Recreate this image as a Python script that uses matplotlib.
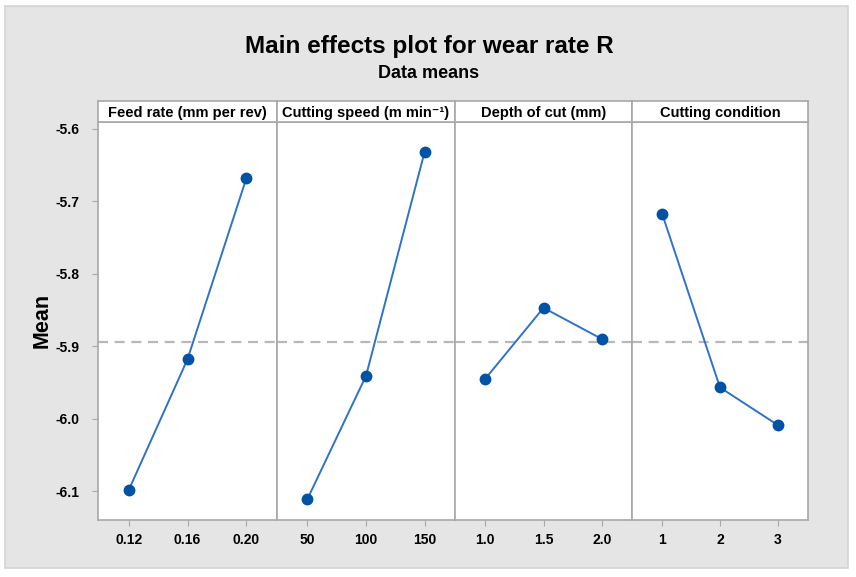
import matplotlib
matplotlib.use('Agg')
import matplotlib.pyplot as plt
from matplotlib.patches import Rectangle

# ---- data ----
factors = ["Feed rate (mm per rev)", "Cutting speed (m min\u207b\u00b9)", "Depth of cut (mm)", "Cutting condition"]
levels = [["0.12", "0.16", "0.20"], ["50", "100", "150"], ["1.0", "1.5", "2.0"], ["1", "2", "3"]]
feed_means = [-6.099, -5.918, -5.668]
speed_means = [-6.111, -5.941, -5.632]
depth_means = [-5.945, -5.847, -5.890]
cond_means = [-5.717, -5.957, -6.009]
grand_mean = -5.894
yticks = [-5.6, -5.7, -5.8, -5.9, -6.0, -6.1]
series = [feed_means, speed_means, depth_means, cond_means]

W, H = 856, 577
fig = plt.figure(figsize=(W / 100, H / 100), dpi=100)
fig.patch.set_facecolor('white')
fig.patches.append(Rectangle((5 / W, 1 - 568 / H), (848 - 5) / W, (568 - 6) / H,
                             transform=fig.transFigure, facecolor='#e5e5e5',
                             edgecolor='#d4d4d4', lw=1.2, zorder=-10))

narrow = ['Liberation Sans Narrow', 'Liberation Sans', 'DejaVu Sans']
normal = ['Liberation Sans', 'DejaVu Sans']

fig.text(429 / W, 1 - 46 / H, "Main effects plot for wear rate R", ha='center', va='center',
         fontsize=17.5, fontweight='bold', family=normal)
fig.text(429 / W, 1 - 73 / H, "Data means", ha='center', va='center',
         fontsize=13, fontweight='bold', family=normal)

edges = [98, 277, 455, 632, 808]
ybot, ytop, strip_top = 520, 121.7, 101
spine_c = '#a8a8a8'
for i in range(4):
    x0, x1 = edges[i], edges[i + 1]
    ax = fig.add_axes([x0 / W, 1 - ybot / H, (x1 - x0) / W, (ybot - ytop) / H])
    ax.set_facecolor('white')
    xs = list(range(len(levels[i])))
    ax.axhline(grand_mean, ls=(0, (4.5, 3)), color='#b8b8b8', lw=1.6, zorder=1)
    ax.plot(xs, series[i], color='#2f72c8', lw=1.4, marker='o', ms=7.5,
            mfc='#0053a4', mec='#0053a4', zorder=3)
    ax.set_xlim(-0.52, 2.52)
    ax.set_ylim(-6.140, -5.590)
    ax.set_xticks(xs)
    ax.set_xticklabels(levels[i], fontsize=10, fontweight='bold', family=narrow)
    for s in ax.spines.values():
        s.set_color(spine_c)
        s.set_linewidth(1.2)
    ax.tick_params(axis='x', length=4, color=spine_c, pad=5)
    if i == 0:
        ax.set_yticks(yticks)
        ax.set_yticklabels([f"{v:.1f}" for v in yticks], fontsize=10, fontweight='bold', family=narrow)
        ax.tick_params(axis='y', length=4, color=spine_c, pad=9)
        ax.set_ylabel("Mean", fontsize=15.5, fontweight='bold', family=normal)
        ax.yaxis.set_label_coords((53 - x0) / (x1 - x0), 0.5)
    else:
        ax.set_yticks([])
    # strip
    sax = fig.add_axes([x0 / W, 1 - ytop / H, (x1 - x0) / W, (ytop - strip_top) / H])
    sax.set_facecolor('white')
    sax.set_xticks([]); sax.set_yticks([])
    for s in sax.spines.values():
        s.set_color(spine_c)
        s.set_linewidth(1.2)
    sax.text(0.5, 0.42, factors[i], ha='center', va='center', transform=sax.transAxes,
             fontsize=10.5, fontweight='bold', family=normal)

fig.savefig('out.png', dpi=100, facecolor=fig.get_facecolor())
